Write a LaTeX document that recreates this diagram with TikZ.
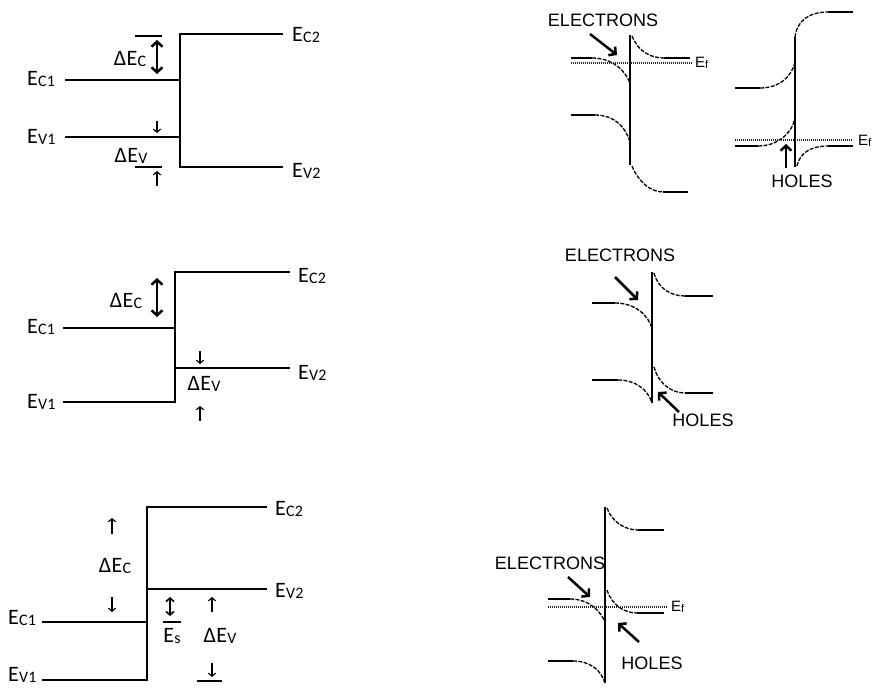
\documentclass[tikz,border=0pt]{standalone}
\usepackage{fontspec}
\setmainfont{Liberation Sans}
\newfontfamily\calfnt{Carlito}
\usetikzlibrary{arrows.meta}
\newcommand{\Elev}[1]{E\kern0.3pt\raisebox{-1.2pt}{\fontsize{16}{16}\selectfont #1}}
\newcommand{\dElev}[1]{Δ\kern0.3pt E\kern0.3pt\raisebox{-1.2pt}{\fontsize{16}{16}\selectfont #1}}
\newcommand{\Ef}{E\raisebox{-1.5pt}{\fontsize{11}{11}\selectfont f}}
\tikzset{
  band/.style={line width=1.8pt},
  bendline/.style={line width=1.3pt, dash pattern=on 4pt off 1.4pt},
  fermi/.style={line width=1.4pt, dash pattern=on 1.2pt off 0.8pt, black!85},
  lbl/.style={font=\calfnt\fontsize{22}{22}\selectfont, inner sep=0pt},
  tag/.style={font=\fontsize{18}{18}\selectfont, inner sep=0pt},
  eftag/.style={font=\fontsize{15}{15}\selectfont, inner sep=0pt, anchor=west},
  bigarr/.style={line width=2.5pt, -{Straight Barb[length=5pt,width=11pt]}},
  dblarr/.style={line width=2.5pt, {Straight Barb[length=5pt,width=11pt]}-{Straight Barb[length=5pt,width=11pt]}},
  midarr/.style={line width=1.6pt, {Straight Barb[length=3.5pt,width=8pt]}-{Straight Barb[length=3.5pt,width=8pt]}},
  smallarr/.style={line width=1.1pt, -{Straight Barb[length=3.2pt,width=7.5pt]}},
  bar/.style={line width=1.6pt}
}
\begin{document}
\begin{tikzpicture}[x=1pt,y=-1pt]
\useasboundingbox (0,0) rectangle (879,688);
\fill[white] (0,0) rectangle (879,688);

% ================= Top left =================
\node[lbl,anchor=west] (a-ec1) at (27,79) {\Elev{C1}};
\node[lbl,anchor=west] (a-ev1) at (27,137) {\Elev{V1}};
\node[lbl,anchor=west] (a-ec2) at (292,35) {\Elev{C2}};
\node[lbl,anchor=west] (a-ev2) at (292,171) {\Elev{V2}};
\draw[band] (65,80) -- (180,80);
\draw[band] (65,137) -- (180,137);
\draw[band] (283,34) -- (180,34) -- (180,167) -- (283,167);
\node[lbl] (a-dec) at (130,59) {\dElev{C}};
\node[lbl] (a-dev) at (131,156) {\dElev{V}};
\draw[bar] (135,36) -- (162,36);
\draw[dblarr] (157,40) -- (157,74);
\draw[smallarr] (157,121) -- (157,133);
\draw[bar] (135,167) -- (162,167);
\draw[smallarr] (157,186) -- (157,171);

% ================= Middle left =================
\node[lbl,anchor=west] (b-ec1) at (27,327) {\Elev{C1}};
\node[lbl,anchor=west] (b-ev1) at (27,402) {\Elev{V1}};
\node[lbl,anchor=west] (b-ec2) at (298,276) {\Elev{C2}};
\node[lbl,anchor=west] (b-ev2) at (298,373) {\Elev{V2}};
\draw[band] (63,328) -- (175,328);
\draw[band] (63,402) -- (175,402) -- (175,272) -- (290,272);
\draw[band] (175,368) -- (290,368);
\node[lbl] (b-dec) at (126,301) {\dElev{C}};
\node[lbl] (b-dev) at (204,384) {\dElev{V}};
\draw[dblarr] (157,278) -- (157,317);
\draw[smallarr] (200,351) -- (200,364);
\draw[smallarr] (200,421) -- (200,406);

% ================= Bottom left =================
\node[lbl,anchor=west] (c-ec1) at (8,618) {\Elev{C1}};
\node[lbl,anchor=west] (c-ev1) at (8,675) {\Elev{V1}};
\node[lbl,anchor=west] (c-ec2) at (275,509) {\Elev{C2}};
\node[lbl,anchor=west] (c-ev2) at (275,591) {\Elev{V2}};
\draw[band] (42,622) -- (147,622);
\draw[band] (42,680) -- (147,680) -- (147,507) -- (267,507);
\draw[band] (147,589) -- (267,589);
\node[lbl] (c-dec) at (115,566) {\dElev{C}};
\draw[smallarr] (112,534) -- (112,518);
\draw[smallarr] (112,597) -- (112,612);
\draw[midarr] (170,597) -- (170,616);
\draw[bar] (163,622) -- (181,622);
\node[lbl] (c-es) at (172,636) {E\kern0.3pt\raisebox{-1.2pt}{\fontsize{16}{16}\selectfont s}};
\draw[smallarr] (212,612) -- (212,597);
\node[lbl] (c-dev) at (220,636) {\dElev{V}};
\draw[smallarr] (212,663) -- (212,677);
\draw[bar] (197,681) -- (222,681);

% ================= Top right A =================
\draw[band] (630,35) -- (630,165);
\draw[band] (571,58) -- (592,58);
\draw[bendline] (592,58) .. controls (612,58) and (625,70) .. (630,83);
\draw[bendline] (632,36) .. controls (638,51) and (650,58) .. (664,58);
\draw[band] (664,58) -- (690,58);
\draw[fermi] (571,63) -- (692,63);
\node[eftag] (a-ef) at (695,63) {\Ef};
\draw[band] (571,115) -- (595,115);
\draw[bendline] (595,115) .. controls (615,115) and (626,128) .. (630,142);
\draw[bendline] (632,166) .. controls (638,181) and (650,192) .. (663,192);
\draw[band] (663,192) -- (688,192);
\node[tag] (a-el) at (603,20) {ELECTRONS};
\draw[bigarr] (590,34) -- (617,55);

% ================= Top right B =================
\draw[band] (795,37) -- (795,167);
\draw[bendline] (795,37) .. controls (797,20) and (810,12) .. (828,12);
\draw[band] (828,12) -- (853,12);
\draw[band] (735,88) -- (760,88);
\draw[bendline] (760,88) .. controls (780,88) and (792,76) .. (795,62);
\draw[band] (735,146) -- (758,146);
\draw[bendline] (758,146) .. controls (778,146) and (792,133) .. (795,118);
\draw[bendline] (797,166) .. controls (800,152) and (812,146) .. (828,146);
\draw[band] (828,146) -- (853,146);
\draw[fermi] (735,140) -- (853,140);
\node[eftag] (b-ef) at (858,141) {\Ef};
\draw[bigarr] (786,168) -- (786,144);
\node[tag] (b-ho) at (802,181) {HOLES};

% ================= Middle right C =================
\draw[band] (652,272) -- (652,403);
\draw[band] (592,303) -- (615,303);
\draw[bendline] (615,303) .. controls (635,303) and (648,315) .. (652,328);
\draw[bendline] (654,273) .. controls (658,288) and (670,296) .. (685,296);
\draw[band] (685,296) -- (713,296);
\draw[band] (592,380) -- (618,380);
\draw[bendline] (618,380) .. controls (636,380) and (648,390) .. (652,403);
\draw[bendline] (654,367) .. controls (658,382) and (670,393) .. (685,393);
\draw[band] (685,393) -- (713,393);
\node[tag] (c-el) at (620,255) {ELECTRONS};
\draw[bigarr] (615,277) -- (638,300);
\draw[bigarr] (679,412) -- (658,392);
\node[tag] (c-ho) at (703,420) {HOLES};

% ================= Bottom right D =================
\draw[band] (605,507) -- (605,683);
\draw[bendline] (607,508) .. controls (612,522) and (625,530) .. (638,530);
\draw[band] (638,530) -- (664,530);
\draw[bendline] (607,590) .. controls (612,605) and (624,613) .. (637,613);
\draw[band] (637,613) -- (664,613);
\draw[fermi] (548,607) -- (667,607);
\node[eftag] (d-ef) at (671,607) {\Ef};
\draw[band] (548,599) -- (570,599);
\draw[bendline] (570,599) .. controls (588,599) and (600,610) .. (605,622);
\draw[band] (548,661) -- (573,661);
\draw[bendline] (573,661) .. controls (590,661) and (601,670) .. (605,683);
\node[tag] (d-el) at (550,563) {ELECTRONS};
\draw[bigarr] (568,577) -- (590,597);
\draw[bigarr] (639,642) -- (618,623);
\node[tag] (d-ho) at (652,663) {HOLES};
\end{tikzpicture}
\end{document}
